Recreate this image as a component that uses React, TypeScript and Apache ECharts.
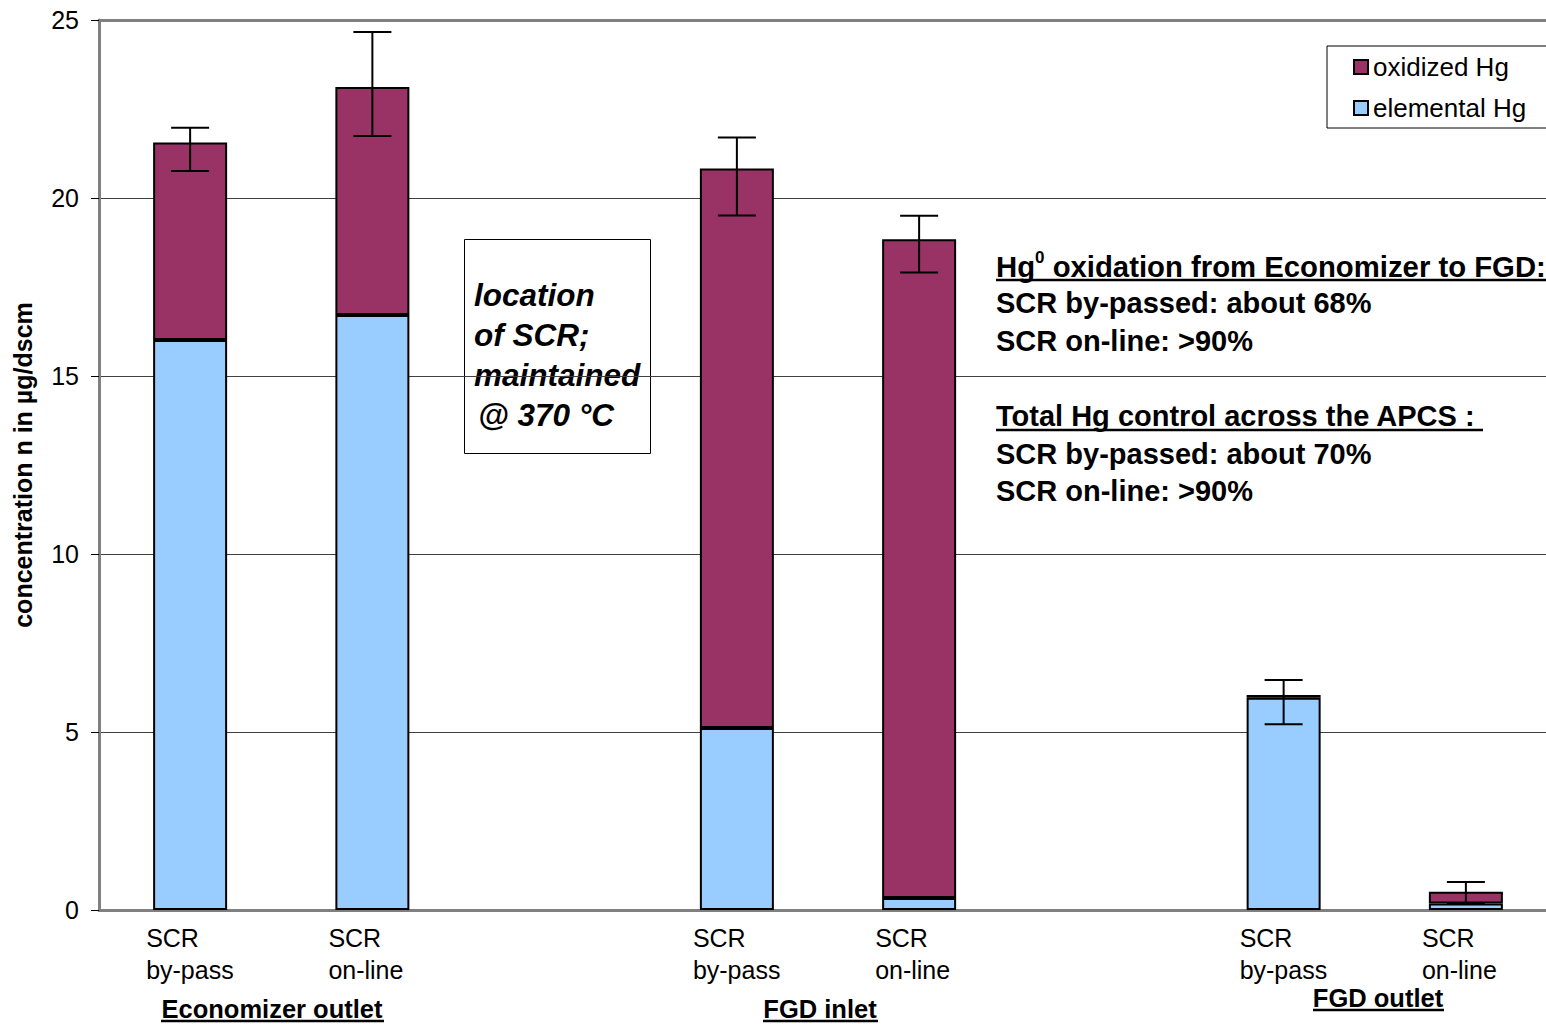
import React, { useEffect, useRef } from "react";
import * as echarts from "echarts";

// Sampling points along the flue gas path; blank slots separate the locations
const categories = [
  "SCR\nby-pass",
  "SCR\non-line",
  "",
  "SCR\nby-pass",
  "SCR\non-line",
  "",
  "SCR\nby-pass",
  "SCR\non-line",
];

// Mercury concentrations, µg/dscm
const elementalHg = [16.01, 16.71, null, 5.11, 0.34, null, 5.96, 0.18];
const oxidizedHg = [5.55, 6.41, null, 15.72, 18.5, null, 0.08, 0.33];

// Error bar range of the total concentration
const errorLow = [20.76, 21.74, null, 19.51, 17.91, null, 5.22, 0.2];
const errorHigh = [21.97, 24.66, null, 21.7, 19.5, null, 6.46, 0.79];

const yTicks = { min: 0, max: 25, interval: 5 };

const FONT = "'Liberation Sans', Arial, sans-serif";

const errorData = errorLow
  .map((lo, i) => (lo == null ? null : [i, lo, errorHigh[i] as number]))
  .filter((d) => d !== null) as number[][];

export default function App() {
  const ref = useRef<HTMLDivElement>(null);

  useEffect(() => {
    if (!ref.current) return;
    const chart = echarts.init(ref.current, null, { renderer: "svg" });

    const underline = (x1: number, x2: number, y: number) => ({
      type: "line",
      shape: { x1, y1: y, x2, y2: y },
      style: { stroke: "#000", lineWidth: 2.5 },
      silent: true,
    });

    const boldText = (x: number, y: number, text: string) => ({
      type: "text",
      x,
      y,
      style: {
        text,
        font: `bold 29px ${FONT}`,
        fill: "#000",
        verticalAlign: "middle",
        align: "left",
      },
    });

    const groupName = (x: number, y: number, text: string) => ({
      type: "text",
      x,
      y,
      style: {
        text,
        font: `bold 25.5px ${FONT}`,
        lineHeight: 24,
        fill: "#000",
        align: "center",
        verticalAlign: "middle",
      },
    });

    chart.setOption({
      animation: false,
      backgroundColor: "#fff",
      textStyle: { fontFamily: FONT },
      grid: { left: 99, right: 0, top: 20, bottom: 114, containLabel: false },
      legend: {
        orient: "vertical",
        left: 1327,
        top: 46,
        data: ["oxidized Hg", "elemental Hg"],
        backgroundColor: "#fff",
        borderColor: "#000",
        borderWidth: 1,
        borderRadius: 0,
        padding: [8, 24, 7, 26],
        itemGap: 15,
        itemWidth: 14,
        itemHeight: 14,
        icon: "rect",
        textStyle: { fontSize: 26, color: "#000", fontFamily: FONT },
      },
      xAxis: [
        {
          type: "category",
          data: categories,
          axisLine: { lineStyle: { color: "#808080", width: 3 } },
          axisTick: { show: false },
          axisLabel: {
            interval: 0,
            margin: 12,
            align: "center",
            formatter: (v: string) =>
              v ? v.split("\n").map((s) => `{l|${s}}`).join("\n") : "",
            rich: {
              l: {
                width: 88,
                align: "left",
                fontSize: 25,
                lineHeight: 32,
                color: "#000",
                fontFamily: FONT,
              },
            },
          },
        },
        {
          type: "category",
          data: categories,
          position: "top",
          axisLine: { show: true, lineStyle: { color: "#808080", width: 3 } },
          axisTick: { show: false },
          axisLabel: { show: false },
        },
      ],
      yAxis: {
        type: "value",
        min: yTicks.min,
        max: yTicks.max,
        interval: yTicks.interval,
        name: "concentration n in µg/dscm",
        nameLocation: "middle",
        nameGap: 64,
        nameRotate: 90,
        nameTextStyle: {
          fontSize: 25,
          fontWeight: "bold",
          color: "#000",
          fontFamily: FONT,
        },
        axisLine: { show: true, lineStyle: { color: "#808080", width: 3 } },
        axisTick: { show: true, length: 8, lineStyle: { color: "#000", width: 1 } },
        axisLabel: { fontSize: 25, color: "#000", margin: 20, fontFamily: FONT },
        splitLine: { lineStyle: { color: "#404040", width: 1 } },
      },
      series: [
        {
          name: "elemental Hg",
          type: "bar",
          stack: "hg",
          barWidth: 74,
          data: elementalHg.map((v) => (v == null ? "-" : v)),
          itemStyle: { color: "#99CCFF", borderColor: "#000", borderWidth: 2 },
        },
        {
          name: "oxidized Hg",
          type: "bar",
          stack: "hg",
          barWidth: 74,
          data: oxidizedHg.map((v) => (v == null ? "-" : v)),
          itemStyle: { color: "#993366", borderColor: "#000", borderWidth: 2 },
        },
        {
          name: "error",
          type: "custom",
          z: 10,
          encode: { x: 0, y: [1, 2] },
          data: errorData,
          renderItem: (params: any, api: any) => {
            const xi = api.value(0);
            const lo = api.coord([xi, api.value(1)]);
            const hi = api.coord([xi, api.value(2)]);
            const half = 19;
            const style = { stroke: "#000", lineWidth: 2 };
            return {
              type: "group",
              children: [
                { type: "line", shape: { x1: hi[0], y1: hi[1], x2: lo[0], y2: lo[1] }, style },
                { type: "line", shape: { x1: hi[0] - half, y1: hi[1], x2: hi[0] + half, y2: hi[1] }, style },
                { type: "line", shape: { x1: lo[0] - half, y1: lo[1], x2: lo[0] + half, y2: lo[1] }, style },
              ],
            };
          },
        },
      ],
      graphic: [
        // Location note for the SCR
        {
          type: "rect",
          shape: { x: 464.5, y: 239.5, width: 186, height: 214 },
          style: { fill: "none", stroke: "#000", lineWidth: 1 },
        },
        ...["location", "of SCR;", "maintained", "@ 370 °C"].map((t, i) => ({
          type: "text",
          x: i === 3 ? 478 : 474,
          y: 295 + i * 40,
          style: {
            text: t,
            font: `italic bold 31.5px ${FONT}`,
            fill: "#000",
            verticalAlign: "middle",
            align: "left",
          },
        })),
        // Oxidation and removal summary
        {
          type: "text",
          x: 996,
          y: 266,
          style: {
            text: "{a|Hg}{s|0}{a| oxidation from Economizer to FGD:}",
            verticalAlign: "middle",
            align: "left",
            rich: {
              a: { font: `bold 29.3px ${FONT}`, fill: "#000", lineHeight: 34 },
              s: { font: `bold 17px ${FONT}`, fill: "#000", verticalAlign: "top", lineHeight: 34 },
            },
          },
        },
        underline(996, 1560, 280),
        boldText(996, 303, "SCR by-passed: about 68%"),
        boldText(996, 341, "SCR on-line: >90%"),
        boldText(996, 416, "Total Hg control across the APCS :"),
        underline(996, 1483, 430),
        boldText(996, 454, "SCR by-passed: about 70%"),
        boldText(996, 491, "SCR on-line: >90%"),
        // Location names under the category labels
        groupName(272, 1009, "Economizer outlet"),
        underline(161, 384, 1021),
        groupName(820, 1009, "FGD inlet"),
        underline(763, 878, 1021),
        groupName(1378, 998, "FGD outlet"),
        underline(1313, 1444, 1010),
      ],
    });

    return () => chart.dispose();
  }, []);

  return (
    <div
      style={{
        position: "absolute",
        left: 0,
        top: 0,
        width: 1546,
        height: 1024,
        overflow: "hidden",
        background: "#fff",
      }}
    >
      <div ref={ref} style={{ width: 1557, height: 1024 }} />
    </div>
  );
}
